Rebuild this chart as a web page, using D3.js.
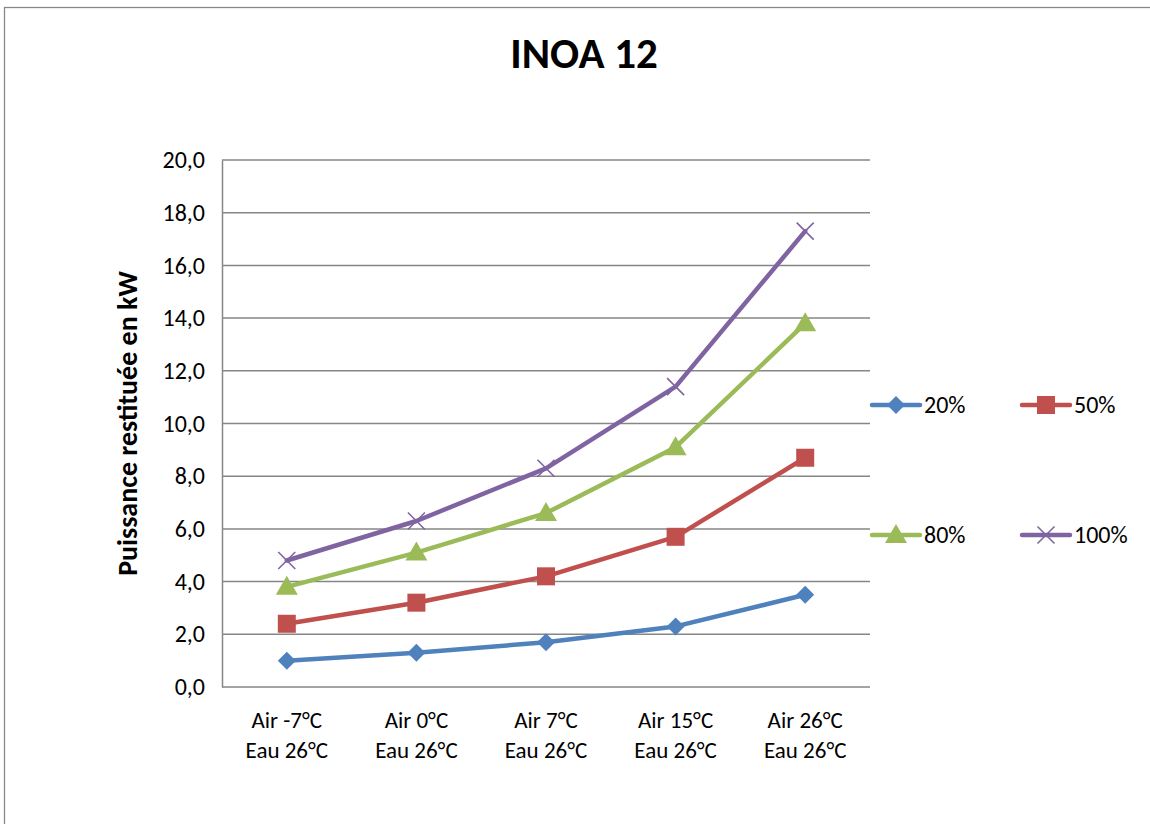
<!DOCTYPE html>
<html>
<head>
<meta charset="utf-8">
<script src="https://cdn.jsdelivr.net/npm/d3@7"></script>
<style>
  body { margin: 0; background: #fff; }
  svg { font-family: Carlito, "Open Sans", "Liberation Sans", sans-serif; }
</style>
</head>
<body>
<script>
// chart data
var categories = [
    ["Air -7°C", "Eau 26°C"],
    ["Air 0°C", "Eau 26°C"],
    ["Air 7°C", "Eau 26°C"],
    ["Air 15°C", "Eau 26°C"],
    ["Air 26°C", "Eau 26°C"]
];
var seriesNames = ["20%", "50%", "80%", "100%"];
var values20 = [1.0, 1.3, 1.7, 2.3, 3.5];
var values50 = [2.4, 3.2, 4.2, 5.7, 8.7];
var values80 = [3.8, 5.1, 6.6, 9.1, 13.8];
var values100 = [4.8, 6.3, 8.3, 11.4, 17.3];
var yTicks = [0, 2, 4, 6, 8, 10, 12, 14, 16, 18, 20];

var seriesValues = [values20, values50, values80, values100];
var colors = ["#4F81BD", "#C0504D", "#9BBB59", "#8064A2"];
var symbols = ["diamond", "square", "triangle", "cross"];

var fullWidth = 1150;
var fullHeight = 824;
var plot = {left: 222, right: 870, top: 160, bottom: 687};

var svg = d3.select("body").append("svg")
            .attr("width", fullWidth)
            .attr("height", fullHeight);

// outer chart frame
svg.append("rect")
   .attr("x", 4.5).attr("y", 7.5)
   .attr("width", fullWidth + 10).attr("height", fullHeight + 10)
   .attr("fill", "#fff")
   .attr("stroke", "#888").attr("stroke-width", 1.3);

var xScale = d3.scaleBand()
               .domain(d3.range(categories.length))
               .range([plot.left, plot.right]);

var yScale = d3.scaleLinear()
               .domain([0, 20])
               .range([plot.bottom, plot.top]);

// gridlines
svg.append("g")
   .selectAll("line")
   .data(yTicks)
   .enter().append("line")
   .attr("x1", plot.left).attr("x2", plot.right)
   .attr("y1", function(d) { return yScale(d); })
   .attr("y2", function(d) { return yScale(d); })
   .attr("stroke", "#868686").attr("stroke-width", 1.5);

// y axis
var yAxis = d3.axisLeft(yScale)
              .tickValues(yTicks)
              .tickSize(0)
              .tickPadding(17)
              .tickFormat(function(d) { return d3.format(".1f")(d).replace(".", ","); });

var yG = svg.append("g")
   .attr("transform", "translate(" + plot.left + ",0)")
   .call(yAxis);
yG.attr("font-family", null).attr("font-size", 24);
yG.select(".domain").attr("stroke", "#868686").attr("stroke-width", 1.5);
yG.selectAll("text").attr("fill", "#000");

// category labels
var xLabels = svg.append("g")
   .selectAll("text")
   .data(categories)
   .enter().append("text")
   .attr("x", function(d, i) { return xScale(i) + xScale.bandwidth() / 2; })
   .attr("y", 728)
   .attr("text-anchor", "middle")
   .attr("font-size", 23);
xLabels.append("tspan").text(function(d) { return d[0]; });
xLabels.append("tspan")
   .attr("x", function(d, i) { return xScale(i) + xScale.bandwidth() / 2; })
   .attr("dy", 30)
   .text(function(d) { return d[1]; });

// y axis title
svg.append("text")
   .attr("transform", "translate(137," + ((plot.top + plot.bottom) / 2) + ") rotate(-90)")
   .attr("text-anchor", "middle")
   .attr("font-size", 28)
   .attr("font-weight", "bold")
   .text("Puissance restituée en kW");

// chart title
svg.append("text")
   .attr("x", 584).attr("y", 68)
   .attr("text-anchor", "middle")
   .attr("font-size", 43)
   .attr("font-weight", "bold")
   .text("INOA 12");

function drawMarker(g, type, color) {
    if (type == "diamond") {
        g.append("path").attr("d", "M0,-9L9,0L0,9L-9,0Z").attr("fill", color);
    } else if (type == "square") {
        g.append("rect").attr("x", -9).attr("y", -9).attr("width", 18).attr("height", 18)
         .attr("fill", color);
    } else if (type == "triangle") {
        g.append("path").attr("d", "M0,-11L11,8L-11,8Z").attr("fill", color);
    } else {
        g.append("path").attr("d", "M-8.5,-8.5L8.5,8.5M-8.5,8.5L8.5,-8.5")
         .attr("stroke", color).attr("stroke-width", 1.6).attr("fill", "none");
    }
}

var line = d3.line()
             .x(function(d, i) { return xScale(i) + xScale.bandwidth() / 2; })
             .y(function(d) { return yScale(d); });

// series lines and markers
seriesValues.forEach(function(vals, s) {
    svg.append("path")
       .datum(vals)
       .attr("d", line)
       .attr("fill", "none")
       .attr("stroke", colors[s])
       .attr("stroke-width", 4.5)
       .attr("stroke-linejoin", "round")
       .attr("stroke-linecap", "round");

    vals.forEach(function(v, i) {
        var g = svg.append("g")
                   .attr("transform", "translate(" + (xScale(i) + xScale.bandwidth() / 2) + "," + yScale(v) + ")");
        drawMarker(g, symbols[s], colors[s]);
    });
});

// legend
var legendPos = [[870, 405], [1020, 405], [870, 535], [1020, 535]];
seriesNames.forEach(function(name, s) {
    var g = svg.append("g")
               .attr("transform", "translate(" + legendPos[s][0] + "," + legendPos[s][1] + ")");
    g.append("line")
     .attr("x1", 2).attr("x2", 50)
     .attr("stroke", colors[s]).attr("stroke-width", 4.5)
     .attr("stroke-linecap", "round");
    var m = g.append("g").attr("transform", "translate(26,0)");
    drawMarker(m, symbols[s], colors[s]);
    g.append("text")
     .attr("x", 54).attr("y", 8)
     .attr("font-size", 24)
     .text(name);
});
</script>
</body>
</html>
